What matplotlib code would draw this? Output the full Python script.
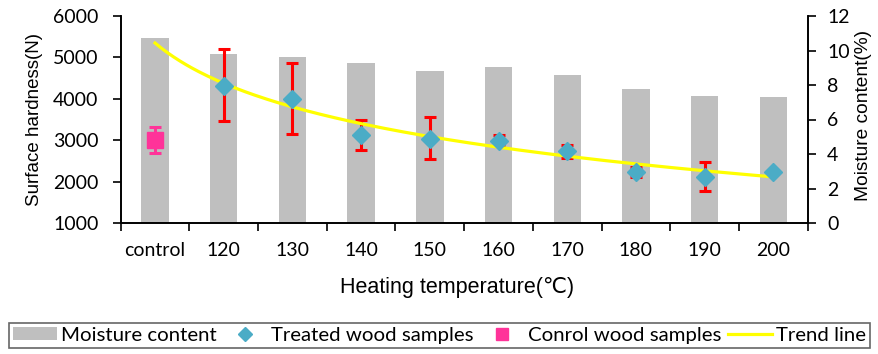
import numpy as np
import matplotlib
matplotlib.use("Agg")
import matplotlib.pyplot as plt
from matplotlib.lines import Line2D
from matplotlib.patches import Patch

# categories along the x axis
categories = ["control", "120", "130", "140", "150", "160", "170", "180", "190", "200"]

# moisture content (%) - grey bars, right axis
moisture = [10.7, 9.78, 9.62, 9.28, 8.81, 9.04, 8.58, 7.77, 7.36, 7.30]

# surface hardness (N) of treated samples (120..200) and error bar ends
treated = [4310, 4000, 3130, 3040, 2990, 2740, 2240, 2120, 2240]
treated_hi = [5200, 4860, 3490, 3550, 3130, 2880, 2360, 2480, 2240]
treated_lo = [3460, 3160, 2760, 2540, 2860, 2560, 2100, 1780, 2240]

# control sample
control = 3005
control_hi = 3330
control_lo = 2685

# trend line values read at each category
trend = [5340, 4390, 3810, 3370, 3070, 2870, 2630, 2420, 2260, 2100]

tick_font = ["Lato", "DejaVu Sans"]
label_font = ["Liberation Sans", "DejaVu Sans"]

fig = plt.figure(figsize=(8.79, 3.54), dpi=100)
ax = fig.add_axes([120.7 / 879, 1 - 223 / 354, (807.7 - 120.7) / 879, (223 - 16) / 354])
ax2 = ax.twinx()

x = np.arange(len(categories))

ax2.bar(x, moisture, width=0.4, color="#BFBFBF", zorder=1)
ax.set_zorder(ax2.get_zorder() + 1)
ax.patch.set_visible(False)

# treated samples with error bars
xt = x[1:]
t = np.array(treated)
yerr = [t - np.array(treated_lo), np.array(treated_hi) - t]
ax.errorbar(xt, t, yerr=yerr, fmt="none", ecolor="#FF0000", elinewidth=2.2,
            capsize=4, capthick=2.2, zorder=3)
ax.plot(xt, t, linestyle="none", marker="D", markersize=9.5, color="#4BACC6", zorder=5)

# control sample
ax.errorbar([0], [control], yerr=[[control - control_lo], [control_hi - control]], fmt="none",
            ecolor="#FF3399", elinewidth=2.2, capsize=4, capthick=2.2, zorder=3)
ax.plot([0], [control], linestyle="none", marker="s", markersize=11, color="#FF3399", zorder=5)

# logarithmic trend line through the read trend values
coef = np.polyfit(np.log(x + 1), trend, 1)
xs = np.linspace(0, 9, 200)
ax.plot(xs, coef[0] * np.log(xs + 1) + coef[1], color="#FFFF00", linewidth=2.3, zorder=4)

ax.set_xlim(-0.5, 9.5)
ax.set_ylim(1000, 6000)
ax2.set_ylim(0, 12)
ax.set_yticks(range(1000, 6001, 1000))
ax2.set_yticks(range(0, 13, 2))

ax.set_xticks(x)
ax.set_xticklabels(categories)
ax.set_xticks(np.arange(-0.5, 10, 1), minor=True)
ax.tick_params(axis="x", which="major", length=0, pad=14)
ax.tick_params(axis="x", which="minor", length=6, width=1.2, direction="out")
ax.tick_params(axis="y", length=6, width=1.2, direction="out", pad=10)
ax2.tick_params(axis="y", length=6, width=1.2, direction="out", pad=8)

for a in (ax, ax2):
    for side in a.spines:
        a.spines[side].set_linewidth(1.2)
    a.spines["top"].set_visible(False)
    for lab in a.get_xticklabels() + a.get_yticklabels():
        lab.set_family(tick_font)
        lab.set_fontsize(14)

ax.set_ylabel("Surface hardness(N)", fontsize=13.5, family=label_font)
ax.yaxis.set_label_coords(-0.113, 0.5)
ax2.set_ylabel("Moisture content(%)", fontsize=13.8, family=label_font)
ax2.yaxis.set_label_coords(1.069, 0.52)
ax.set_xlabel("Heating temperature(℃)", fontsize=15.5, family=label_font)
ax.xaxis.set_label_coords(0.49, -0.261)

handles = [
    Patch(facecolor="#BFBFBF", edgecolor="none"),
    Line2D([], [], linestyle="none", marker="D", markersize=7, color="#4BACC6"),
    Line2D([], [], linestyle="none", marker="s", markersize=9, color="#FF3399"),
    Line2D([], [], color="#FFFF00", linewidth=2.3),
]
labels = ["Moisture content", "Treated wood samples", "Conrol wood samples", "Trend line"]
leg = fig.legend(handles, labels, ncol=4, loc="upper left",
                 bbox_to_anchor=(9 / 879, 1 - 322.7 / 354), borderaxespad=0,
                 prop={"family": tick_font, "size": 14.7}, frameon=True, fancybox=False,
                 handlelength=2.15, handleheight=0.55, handletextpad=0.18,
                 columnspacing=0.34, borderpad=0.2)
leg.get_frame().set_edgecolor("#404040")
leg.get_frame().set_linewidth(1.2)

fig.savefig("out.png", dpi=100)
